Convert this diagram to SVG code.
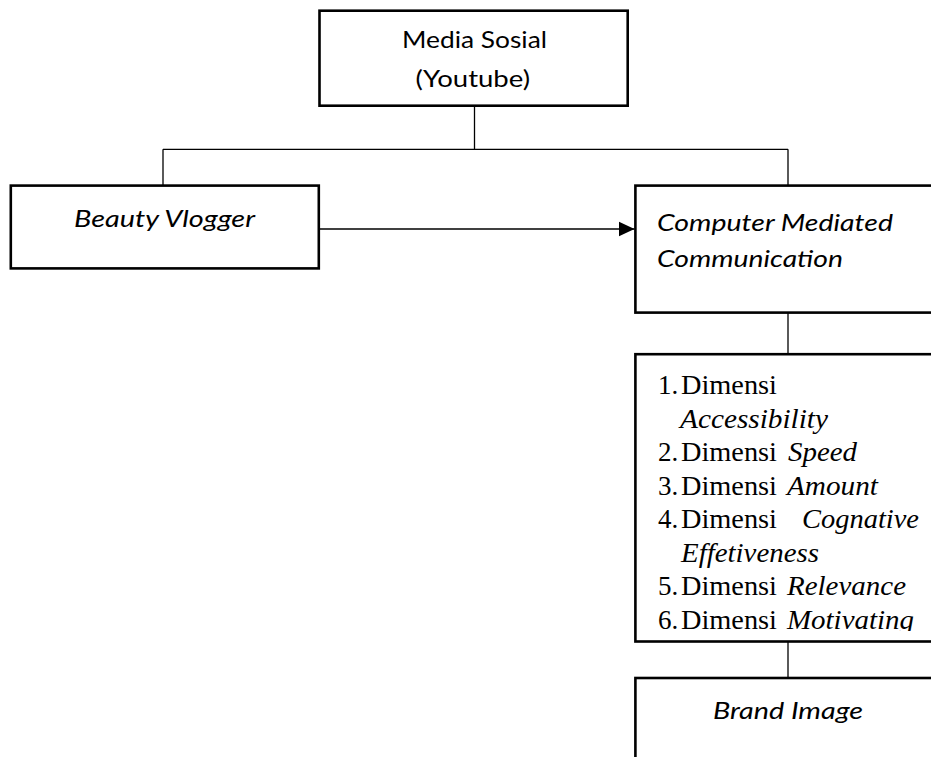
<svg xmlns="http://www.w3.org/2000/svg" width="931" height="757" viewBox="0 0 931 757">
<style>
.box{fill:#fff;stroke:#000;stroke-width:2.6}
.con{fill:none;stroke:#000;stroke-width:1.3}
.sans{font-family:Lato,"Open Sans","Liberation Sans",sans-serif;font-size:24px;fill:#000}
.it{font-style:italic}
.serif{font-family:"Liberation Serif","Times New Roman","DejaVu Serif",serif;font-size:27px;fill:#000}
</style>
<defs>
<marker id="arr" markerUnits="userSpaceOnUse" markerWidth="16" markerHeight="16" refX="16" refY="8" orient="auto">
<path d="M0,0.5 L16,8 L0,15.5 Z" fill="#000"/>
</marker>
<clipPath id="clipDims"><rect x="636" y="356" width="300" height="275"/></clipPath>
</defs>
<rect width="931" height="757" fill="#fff"/>
<g id="connectors">
<path class="con" d="M474.5,106 V149.3"/>
<path class="con" d="M163,149.3 H788"/>
<path class="con" d="M163,149.3 V186"/>
<path class="con" d="M788,149.3 V186"/>
<path class="con" d="M319,229 H634.5" marker-end="url(#arr)"/>
<path class="con" d="M788,312.5 V354"/>
<path class="con" d="M788,641.5 V678"/>
</g>
<g id="media-sosial">
<rect class="box" x="319.5" y="10.7" width="308.2" height="95"/>
<text class="sans" x="402" y="48" textLength="145" lengthAdjust="spacingAndGlyphs">Media Sosial</text>
<text class="sans" x="415.5" y="87" textLength="114.5" lengthAdjust="spacingAndGlyphs">(Youtube)</text>
</g>
<g id="beauty-vlogger">
<rect class="box" x="10.8" y="185.6" width="308" height="82.8"/>
<text class="sans it" x="74" y="227" textLength="181" lengthAdjust="spacingAndGlyphs">Beauty Vlogger</text>
</g>
<g id="cmc">
<rect class="box" x="635.4" y="185.6" width="320" height="127"/>
<text class="sans it" x="657" y="230.5" textLength="236" lengthAdjust="spacingAndGlyphs">Computer Mediated</text>
<text class="sans it" x="657" y="266.5" textLength="186" lengthAdjust="spacingAndGlyphs">Communication</text>
</g>
<g id="dimensi">
<rect class="box" x="635.4" y="354.2" width="320" height="287.3"/>
<g clip-path="url(#clipDims)">
<text class="serif" x="658" y="394">1.</text>
<text class="serif" x="681" y="394" textLength="96" lengthAdjust="spacingAndGlyphs">Dimensi</text>
<text class="serif it" x="680" y="427.5" textLength="148" lengthAdjust="spacingAndGlyphs">Accessibility</text>
<text class="serif" x="658" y="461">2.</text>
<text class="serif" x="681" y="461" textLength="96" lengthAdjust="spacingAndGlyphs">Dimensi</text>
<text class="serif it" x="788" y="461" textLength="69" lengthAdjust="spacingAndGlyphs">Speed</text>
<text class="serif" x="658" y="494.5">3.</text>
<text class="serif" x="681" y="494.5" textLength="96" lengthAdjust="spacingAndGlyphs">Dimensi</text>
<text class="serif it" x="787" y="494.5" textLength="91" lengthAdjust="spacingAndGlyphs">Amount</text>
<text class="serif" x="658" y="528">4.</text>
<text class="serif" x="681" y="528" textLength="96" lengthAdjust="spacingAndGlyphs">Dimensi</text>
<text class="serif it" x="802" y="528" textLength="117" lengthAdjust="spacingAndGlyphs">Cognative</text>
<text class="serif it" x="681" y="561.5" textLength="138" lengthAdjust="spacingAndGlyphs">Effetiveness</text>
<text class="serif" x="658" y="595">5.</text>
<text class="serif" x="681" y="595" textLength="96" lengthAdjust="spacingAndGlyphs">Dimensi</text>
<text class="serif it" x="787" y="595" textLength="119" lengthAdjust="spacingAndGlyphs">Relevance</text>
<text class="serif" x="658" y="628.5">6.</text>
<text class="serif" x="681" y="628.5" textLength="96" lengthAdjust="spacingAndGlyphs">Dimensi</text>
<text class="serif it" x="787" y="628.5" textLength="127" lengthAdjust="spacingAndGlyphs">Motivating</text>
</g>
</g>
<g id="brand-image">
<rect class="box" x="635.4" y="678" width="320" height="100"/>
<text class="sans it" x="713" y="719" textLength="150" lengthAdjust="spacingAndGlyphs">Brand Image</text>
</g>
</svg>
